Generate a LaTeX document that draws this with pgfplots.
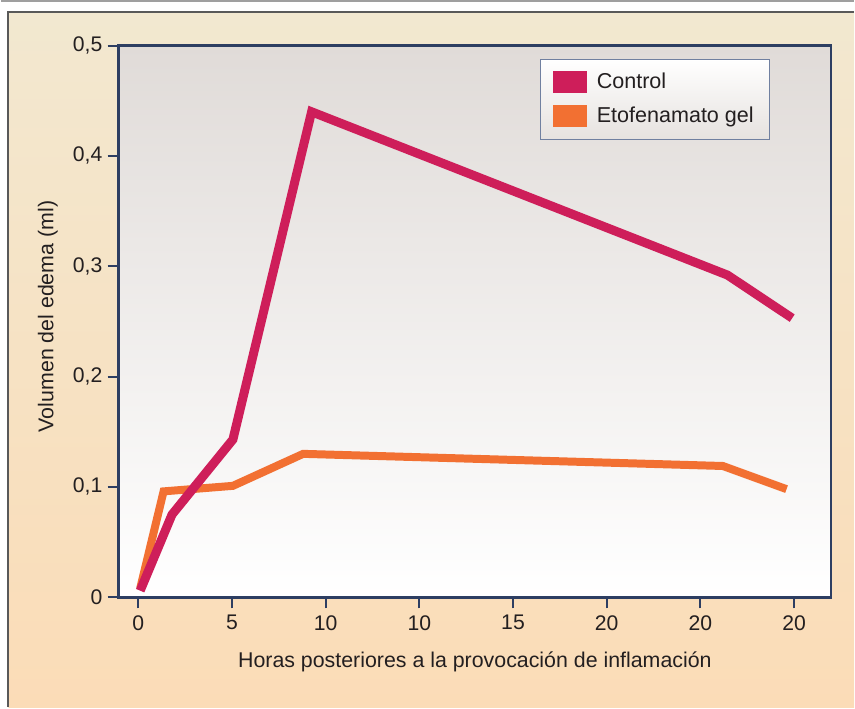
\documentclass[border=0pt]{standalone}
\usepackage{fontspec}
\setmainfont{Liberation Sans}
\usepackage{pgfplots}
\pgfplotsset{compat=1.18}
\definecolor{cream}{HTML}{F2E8D0}
\definecolor{peach}{HTML}{FBDCB7}
\definecolor{plottop}{HTML}{E0DBD8}
\definecolor{navy}{HTML}{2D3E62}
\definecolor{ctrl}{HTML}{CE1E5A}
\definecolor{etof}{HTML}{F27032}
\definecolor{txt}{HTML}{231F20}
\definecolor{legbd}{HTML}{7080A0}
\definecolor{legbot}{HTML}{E6E2DF}
\begin{document}
\begin{tikzpicture}
\begin{scope}[x=0.5pt,y=0.5pt]
\fill[white] (0,0) rectangle (855,708);
\draw[gray!75, line width=1pt] (0,707.7) -- (855,707.7);
\shade[top color=cream, bottom color=peach] (7.5,0) rectangle (855,697);
\draw[black!65, line width=1pt] (7.5,0) -- (7.5,697) -- (855,697);
\end{scope}
\begin{axis}[
  at={(59pt,55pt)}, anchor=south west,
  scale only axis, width=357pt, height=276.5pt,
  xmin=-0.209, xmax=7.395, ymin=0, ymax=0.5,
  axis line style={navy, line width=1.3pt},
  axis background/.style={top color=plottop, bottom color=white},
  xtick={0,1,2,3,4,5,6,7},
  xticklabels={0,5,10,10,15,20,20,20},
  ytick={0,0.1,0.2,0.3,0.4,0.5},
  yticklabels={0,{0,1},{0,2},{0,3},{0,4},{0,5}},
  xtick pos=lower, ytick pos=left,
  tick align=outside,
  major tick length=5.5pt,
  tick style={navy, line width=1pt},
  ticklabel style={font=\fontsize{10.6}{12}\selectfont, text=txt},
  yticklabel style={xshift=0.8pt},
  xlabel={Horas posteriores a la provocación de inflamación},
  ylabel={Volumen del edema (ml)},
  label style={font=\fontsize{10.7}{12}\selectfont, text=txt},
  xlabel style={at={(axis description cs:0.5,-0.1175)}, anchor=center},
  ylabel style={at={(axis description cs:-0.0994,0.509)}, anchor=center, rotate=0},
  legend style={at={(0.592,0.9765)}, anchor=north west,
    draw=legbd, line width=0.5pt, top color=white, bottom color=legbot,
    font=\fontsize{10.8}{12}\selectfont, text=txt,
    inner xsep=6pt, inner ysep=5pt, row sep=3.6pt,
    /tikz/every odd column/.append style={column sep=3pt}},
  legend cell align=left,
  reverse legend,
  legend image code/.code={\fill[#1, draw=none] (0pt,-5.5pt) rectangle (17pt,5.5pt);},
]
\addplot[etof, line width=4pt, line join=miter] coordinates {
 (0.02,0.008) (0.27,0.096) (1.01,0.101) (1.76,0.130) (6.24,0.119) (6.92,0.098)};
\addlegendentry{Etofenamato gel}
\addplot[ctrl, line width=4.5pt, line join=miter] coordinates {
 (0.02,0.006) (0.36,0.075) (1.01,0.143) (1.85,0.440) (6.29,0.292) (6.98,0.253)};
\addlegendentry{Control}
\end{axis}
\end{tikzpicture}
\end{document}
